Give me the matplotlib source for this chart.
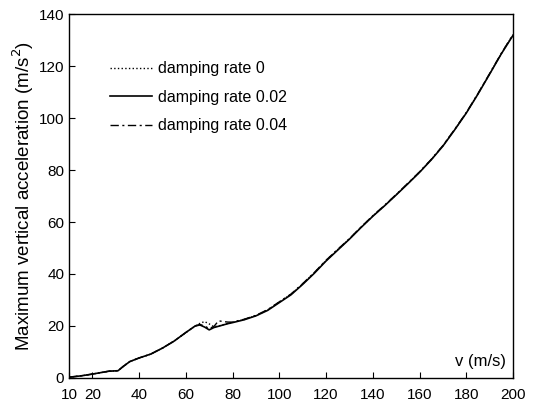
import matplotlib
matplotlib.use("Agg")
import matplotlib.pyplot as plt

plt.rcParams['font.family'] = ['Liberation Sans', 'DejaVu Sans']

v = [10, 15, 20, 27, 31, 33, 36, 40, 45, 50, 55, 60, 64, 66, 68, 70, 72, 74, 76, 78, 80, 85, 90, 95,
     100, 105, 110, 115, 120, 125, 130, 135, 140, 145, 150, 155, 160, 165, 170, 175, 180, 185, 190, 195, 200]
acc_0 = [0.3, 0.8, 1.5, 2.6, 2.8, 4.3, 6.3, 7.7, 9.2, 11.5, 14.2, 17.5, 20.0, 21.0, 21.7, 20.8, 19.7, 20.0, 20.5, 21.0, 21.4, 22.5, 24.0, 26.2,
         29.2, 32.2, 36.2, 40.5, 45.2, 49.4, 53.5, 58.0, 62.3, 66.3, 70.5, 74.8, 79.2, 84.0, 89.3, 95.5, 102.0, 109.3, 117.0, 124.8, 132.0]
acc_002 = [0.3, 0.8, 1.5, 2.6, 2.8, 4.3, 6.3, 7.7, 9.2, 11.5, 14.2, 17.5, 20.0, 20.4, 19.6, 18.5, 19.4, 19.9, 20.4, 20.9, 21.3, 22.4, 23.9, 26.0,
           29.0, 32.0, 36.0, 40.3, 45.0, 49.2, 53.4, 57.9, 62.2, 66.2, 70.4, 74.7, 79.1, 83.9, 89.2, 95.4, 101.9, 109.2, 116.9, 124.7, 131.8]
acc_004 = [0.3, 0.8, 1.5, 2.6, 2.8, 4.3, 6.3, 7.7, 9.2, 11.5, 14.2, 17.5, 20.0, 20.6, 20.0, 19.0, 19.8, 22.0, 21.7, 21.5, 21.5, 22.6, 24.1, 26.3,
           29.3, 32.3, 36.3, 40.6, 45.3, 49.5, 53.6, 58.1, 62.4, 66.4, 70.6, 74.9, 79.3, 84.1, 89.4, 95.6, 102.1, 109.4, 117.1, 124.9, 132.1]
labels = ['damping rate 0', 'damping rate 0.02', 'damping rate 0.04']
xticks = [10, 20, 40, 60, 80, 100, 120, 140, 160, 180, 200]
yticks = [0, 20, 40, 60, 80, 100, 120, 140]

fig = plt.figure(figsize=(5.45, 4.01), dpi=100)
ax = fig.add_axes([0.1266, 0.0574, 0.8147, 0.9076])
ax.plot(v, acc_0, color='black', linestyle=':', linewidth=1.0, label=labels[0])
ax.plot(v, acc_002, color='black', linestyle='-', linewidth=1.2, label=labels[1])
ax.plot(v, acc_004, color='black', linestyle=(0, (6, 2.5, 1.5, 2.5)), linewidth=1.0, label=labels[2])

ax.set_xlim(10, 200)
ax.set_ylim(0, 140)
ax.set_xticks(xticks)
ax.set_yticks(yticks)
ax.tick_params(direction='in', length=4, labelsize=11, colors='black', top=False, right=False)
ax.tick_params(axis='x', pad=7)
for s in ax.spines.values():
    s.set_linewidth(1.0)
ax.set_ylabel('Maximum vertical acceleration (m/s$^2$)', fontsize=13.5, labelpad=2)
ax.text(0.985, 0.025, 'v (m/s)', transform=ax.transAxes, ha='right', va='bottom', fontsize=12)
ax.legend(loc='upper left', bbox_to_anchor=(0.06, 0.91), frameon=False, fontsize=11.5,
          handlelength=2.6, handletextpad=0.4, labelspacing=0.85)

fig.savefig('out.png', dpi=100)
